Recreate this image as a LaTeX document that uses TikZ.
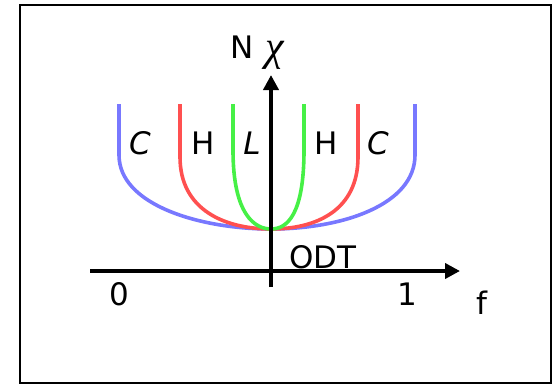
\documentclass[tikz,border=0pt]{standalone}
\usepackage{fontspec}
\setmainfont{DejaVu Sans}
\newfontfamily\chifont{Liberation Serif}
\usetikzlibrary{arrows.meta}
\definecolor{cblue}{RGB}{120,120,255}
\definecolor{cred}{RGB}{255,80,80}
\definecolor{cgreen}{RGB}{70,240,70}
\begin{document}
\begin{tikzpicture}[x=1pt,y=-1pt,
  axis/.style={line width=3.8pt,-{Triangle[length=15pt,width=15pt]}},
  curve/.style={line width=3.6pt},
  lbl/.style={font=\fontsize{31}{34}\selectfont,inner sep=0pt},
  every node/.style={inner sep=0pt}]
\useasboundingbox (0,0) rectangle (554,384);
\draw[line width=2.2pt] (20,5) rectangle (551,383);
% curves
\coordinate (B) at (271,229);
\coordinate (bl) at (119,104); \coordinate (br) at (415,104);
\coordinate (rl) at (180,104); \coordinate (rr) at (358,104);
\coordinate (gl) at (233,104); \coordinate (gr) at (304,104);
\draw[curve,cblue] (bl) -- (119,155) .. controls (119,205) and (200,229) .. (B)
  .. controls (342,229) and (415,205) .. (415,155) -- (br);
\draw[curve,cred] (rl) -- (180,157) .. controls (180,210) and (225,229) .. (B)
  .. controls (317,229) and (358,210) .. (358,157) -- (rr);
\draw[curve,cgreen] (gl) -- (233,150) .. controls (233,215) and (255,229) .. (B)
  .. controls (287,229) and (304,215) .. (304,150) -- (gr);
% axes
\coordinate (xs) at (90,271); \coordinate (xe) at (460,271);
\coordinate (ys) at (271,287); \coordinate (ye) at (271,75);
\draw[axis] (xs) -- (xe);
\draw[axis] (ys) -- (ye);
% labels
\node[lbl] (c1) at (140,143) {\textit{C}};
\node[lbl] (h1) at (203,143) {H};
\node[lbl] (l1) at (252,143) {\textit{L}};
\node[lbl] (h2) at (326,143) {H};
\node[lbl] (c2) at (378,143) {\textit{C}};
\node[lbl] (N) at (242,47) {N};
\node[font=\fontsize{42}{44}\selectfont] (chi) at (275,55) {\chifont\itshape χ};
\node[lbl] (odt) at (323,257) {ODT};
\node[lbl] (zero) at (119,294) {0};
\node[lbl] (one) at (407,294) {1};
\node[lbl] (f) at (482,303) {f};
\end{tikzpicture}
\end{document}
